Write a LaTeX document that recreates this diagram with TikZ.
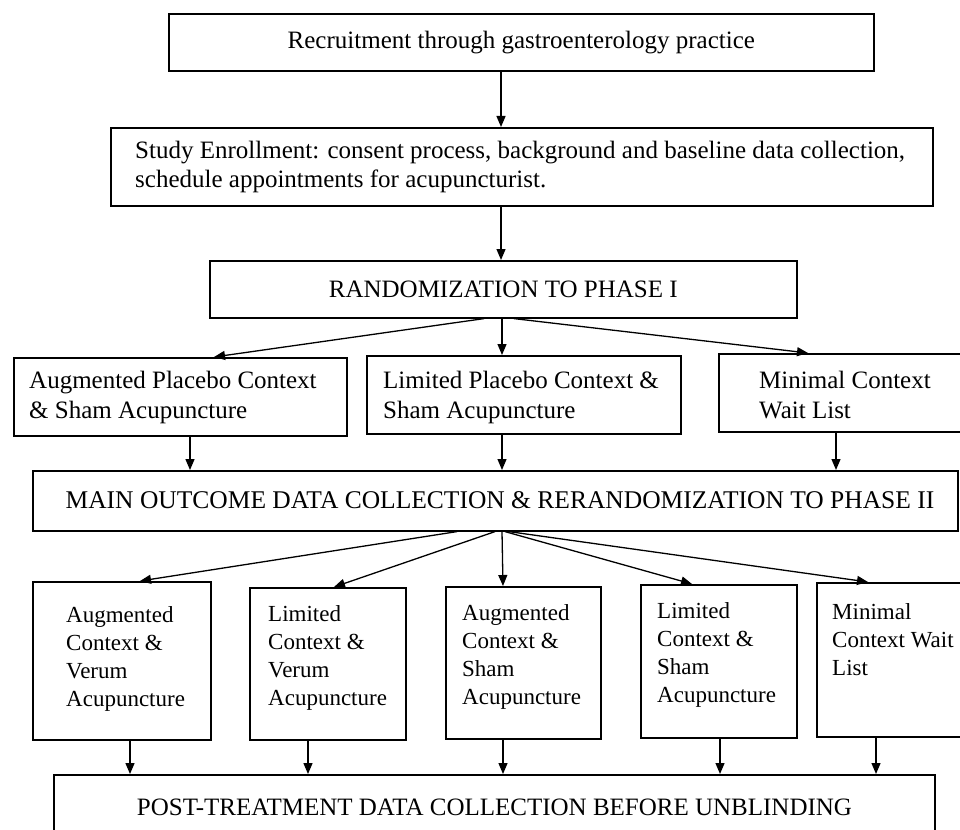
\documentclass[tikz,border=0pt]{standalone}
\usepackage{fontspec}
\setmainfont{Liberation Serif}
\usetikzlibrary{arrows.meta}
\begin{document}
\begin{tikzpicture}[x=1pt,y=-1pt,
  box/.style={draw, line width=1.6pt, inner sep=0pt, anchor=north west, font=\fontsize{25}{29}\selectfont},
  txt/.style={inner sep=0pt, anchor=west, align=left},
  phtwo/.style={txt, font=\fontsize{23}{28}\selectfont},
  arr/.style={-{Triangle[length=11pt,width=9pt]}, line width=1.3pt}]
\useasboundingbox (0,0) rectangle (960,829);
\fill[white] (0,0) rectangle (960,829);
\clip (0,0) rectangle (960,829);
% boxes
\node[box, minimum width=705pt, minimum height=57pt] (b1) at (168,13) {Recruitment through gastroenterology practice};
\node[box, minimum width=822pt, minimum height=78pt] (b2) at (110,127) {};
\node[box, minimum width=587pt, minimum height=57pt] (b3) at (209,260) {RANDOMIZATION TO PHASE I};
\node[box, minimum width=333pt, minimum height=78pt] (p4a) at (13,357) {};
\node[box, minimum width=314pt, minimum height=78pt] (p4b) at (366,355) {};
\node[box, minimum width=252pt, minimum height=78pt] (p4c) at (718,353) {};
\node[box, minimum width=925pt, minimum height=60pt] (b5) at (32,470) {};
\node[box, minimum width=178pt, minimum height=158pt] (qA) at (32,581) {};
\node[box, minimum width=156pt, minimum height=152pt] (qB) at (249,587) {};
\node[box, minimum width=155pt, minimum height=152pt] (qC) at (445,586) {};
\node[box, minimum width=156pt, minimum height=153pt] (qD) at (640,584) {};
\node[box, minimum width=154pt, minimum height=154pt] (qE) at (816,582) {};
\node[box, minimum width=881pt, minimum height=76pt] (b6) at (53,774) {};
% texts
\node[txt, font=\fontsize{25}{29}\selectfont] (t2) at (135,167) {Study Enrollment: consent process, background and baseline data collection,\\schedule appointments for acupuncturist.};
\node[txt, font=\fontsize{25}{30}\selectfont] (t4a) at (29,397) {Augmented Placebo Context\\\& Sham Acupuncture};
\node[txt, font=\fontsize{25}{30}\selectfont] (t4b) at (383,397) {Limited Placebo Context \&\\Sham Acupuncture};
\node[txt, font=\fontsize{25}{30}\selectfont] (t4c) at (759,395) {Minimal Context\\Wait List};
\node[inner sep=0pt, font=\fontsize{25.5}{29}\selectfont] (t5) at (500,500) {MAIN OUTCOME DATA COLLECTION \& RERANDOMIZATION TO PHASE II};
\node[phtwo] (tA) at (66,658.5) {Augmented\\Context \&\\Verum\\Acupuncture};
\node[phtwo] (tB) at (268,658) {Limited\\Context \&\\Verum\\Acupuncture};
\node[phtwo] (tC) at (462,657) {Augmented\\Context \&\\Sham\\Acupuncture};
\node[phtwo] (tD) at (657,655) {Limited\\Context \&\\Sham\\Acupuncture};
\node[phtwo] (tE) at (832,640) {Minimal\\Context Wait\\List};
\node[inner sep=0pt, font=\fontsize{25}{29}\selectfont] (t6) at (494.5,807) {POST-TREATMENT DATA COLLECTION BEFORE UNBLINDING};
% connectors
\draw[arr] ([xshift=333pt]b1.south west) -- ([xshift=391pt]b2.north west);
\draw[arr] ([xshift=391pt]b2.south west) -- ([xshift=292pt]b3.north west);
\draw[arr] ([xshift=275pt]b3.south west) -- ([xshift=201pt]p4a.north west);
\draw[arr] ([xshift=293pt]b3.south west) -- ([xshift=136pt]p4b.north west);
\draw[arr] ([xshift=305pt]b3.south west) -- ([xshift=90pt]p4c.north west);
\draw[arr] ([xshift=177pt]p4a.south west) -- ([xshift=158pt]b5.north west);
\draw[arr] ([xshift=136pt]p4b.south west) -- ([xshift=470pt]b5.north west);
\draw[arr] ([xshift=118pt]p4c.south west) -- ([xshift=804pt]b5.north west);
\draw[arr] ([xshift=425pt]b5.south west) -- ([xshift=108pt]qA.north west);
\draw[arr] ([xshift=463pt]b5.south west) -- ([xshift=85pt]qB.north west);
\draw[arr] ([xshift=470pt]b5.south west) -- ([xshift=58pt]qC.north west);
\draw[arr] ([xshift=473pt]b5.south west) -- ([xshift=52pt]qD.north west);
\draw[arr] ([xshift=477pt]b5.south west) -- ([xshift=52pt]qE.north west);
\draw[arr] ([xshift=98pt]qA.south west) -- ([xshift=77pt]b6.north west);
\draw[arr] ([xshift=59pt]qB.south west) -- ([xshift=255pt]b6.north west);
\draw[arr] ([xshift=58pt]qC.south west) -- ([xshift=450pt]b6.north west);
\draw[arr] ([xshift=80pt]qD.south west) -- ([xshift=667pt]b6.north west);
\draw[arr] ([xshift=60pt]qE.south west) -- ([xshift=823pt]b6.north west);
\end{tikzpicture}
\end{document}
